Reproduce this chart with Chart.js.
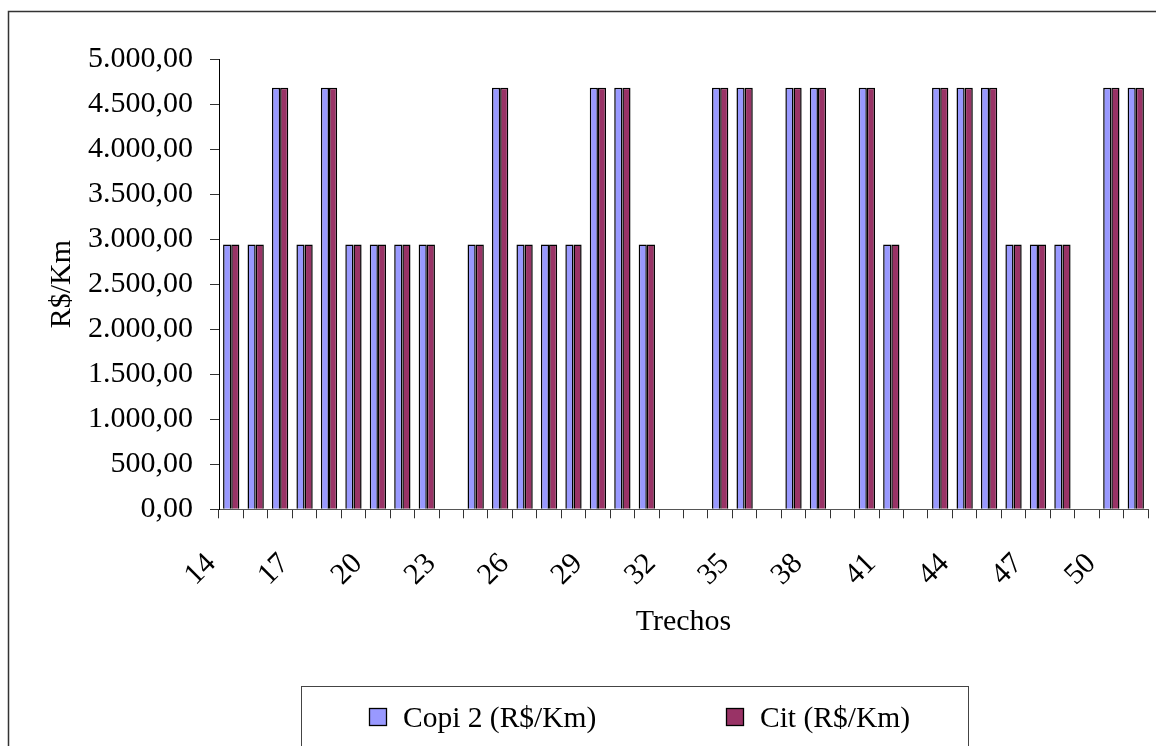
<!DOCTYPE html>
<html lang="pt-BR">
<head>
<meta charset="utf-8">
<title>Copi 2 x Cit por trecho</title>
<script src="https://cdn.jsdelivr.net/npm/chart.js@4.4.1/dist/chart.umd.min.js"></script>
<style>
  html, body { margin: 0; padding: 0; background: #fff; overflow: hidden; }
  #grafico { display: block; }
</style>
</head>
<body>
<canvas id="grafico" width="1156" height="746"></canvas>
<script>
// dados (R$/Km por trecho)
const trechos = ['14', '15', '16', '17', '18', '19', '20', '21', '22', '23',
                 '24', '25', '26', '27', '28', '29', '30', '31', '32', '33',
                 '34', '35', '36', '37', '38', '39', '40', '41', '42', '43',
                 '44', '45', '46', '47', '48', '49', '50', '51'];
const copi2 = [2940, 2940, 4680, 2940, 4680, 2940, 2940, 2940, 2940, null,
               2940, 4680, 2940, 2940, 2940, 4680, 4680, 2940, null, null,
               4680, 4680, null, 4680, 4680, null, 4680, 2940, null, 4680,
               4680, 4680, 2940, 2940, 2940, null, 4680, 4680];
const cit = [2940, 2940, 4680, 2940, 4680, 2940, 2940, 2940, 2940, null,
             2940, 4680, 2940, 2940, 2940, 4680, 4680, 2940, null, null,
             4680, 4680, null, 4680, 4680, null, 4680, 2940, null, 4680,
             4680, 4680, 2940, 2940, 2940, null, 4680, 4680];
const yMin = 0;
const yMax = 5000;
const yPasso = 500;
const cada = 3; // mostra um rotulo a cada 3 trechos

const fonte = '"Liberation Serif", "Times New Roman", serif';
Chart.defaults.font.family = fonte;
Chart.defaults.color = '#000';

function formatoBR(v) {
    const [inteiro, dec] = Number(v).toFixed(2).split('.');
    return inteiro.replace(/\B(?=(\d{3})+(?!\d))/g, '.') + ',' + dec;
}

// moldura externa + legenda com caixa (estilo Excel)
const molduraLegenda = {
    id: 'molduraLegenda',
    beforeDraw(chart) {
        const ctx = chart.ctx;
        ctx.save();
        ctx.fillStyle = '#fff';
        ctx.fillRect(0, 0, chart.width, chart.height);
        ctx.strokeStyle = '#333';
        ctx.lineWidth = 1.5;
        ctx.strokeRect(8.5, 11.5, chart.width + 40, chart.height + 40);
        ctx.restore();
    },
    afterDraw(chart) {
        const ctx = chart.ctx;
        ctx.save();
        ctx.strokeStyle = '#444';
        ctx.lineWidth = 1;
        ctx.strokeRect(301.5, 686.5, 667, 120);

        const posX = [369, 726];
        ctx.font = '29.5px ' + fonte;
        ctx.textBaseline = 'alphabetic';
        ctx.textAlign = 'left';
        chart.data.datasets.forEach((ds, i) => {
            const x = posX[i];
            ctx.fillStyle = ds.backgroundColor;
            ctx.fillRect(x, 708, 18, 18);
            ctx.strokeStyle = '#000';
            ctx.lineWidth = 1.3;
            ctx.strokeRect(x + 0.5, 708.5, 17, 17);
            ctx.fillStyle = '#000';
            ctx.fillText(ds.label, x + 34, 727);
        });
        ctx.restore();
    }
};

const ctx = document.getElementById('grafico').getContext('2d');
new Chart(ctx, {
    type: 'bar',
    data: {
        labels: trechos,
        datasets: [
            {
                label: 'Copi 2 (R$/Km)',
                data: copi2,
                backgroundColor: '#9999FF',
                borderColor: '#000',
                borderWidth: 1.5
            },
            {
                label: 'Cit (R$/Km)',
                data: cit,
                backgroundColor: '#993366',
                borderColor: '#000',
                borderWidth: 1.5
            }
        ]
    },
    options: {
        responsive: false,
        animation: false,
        devicePixelRatio: 1,
        layout: { padding: { left: 0, right: 8, top: 59, bottom: 86.7 } },
        datasets: { bar: { categoryPercentage: 0.667, barPercentage: 1 } },
        plugins: {
            legend: { display: false },
            tooltip: { enabled: false }
        },
        scales: {
            x: {
                grid: { drawOnChartArea: false, offset: true, tickLength: 9, color: '#333' },
                border: { color: '#555', width: 1 },
                ticks: {
                    autoSkip: false,
                    maxRotation: 45,
                    minRotation: 45,
                    padding: 28,
                    labelOffset: -20,
                    font: { size: 30 },
                    callback: function (v, i) {
                        return i % cada === 0 ? this.getLabelForValue(v) : '';
                    }
                },
                title: {
                    display: true,
                    text: 'Trechos',
                    font: { size: 30 },
                    padding: { top: 0, bottom: 19 }
                },
                afterFit(scale) {
                    scale.height = 150;
                    scale.paddingLeft = 0;
                    scale.paddingRight = 0;
                }
            },
            y: {
                min: yMin,
                max: yMax,
                grid: { drawOnChartArea: false, tickLength: 9, color: '#333' },
                border: { color: '#000', width: 1 },
                ticks: {
                    stepSize: yPasso,
                    padding: 17,
                    font: { size: 30 },
                    callback: v => formatoBR(v)
                },
                title: {
                    display: true,
                    text: 'R$/Km',
                    font: { size: 30 },
                    padding: { top: 44, bottom: 0 }
                },
                afterFit(scale) {
                    scale.width = 219;
                    scale.paddingTop = 0;
                    scale.paddingBottom = 0;
                }
            }
        }
    },
    plugins: [molduraLegenda]
});
</script>
</body>
</html>
